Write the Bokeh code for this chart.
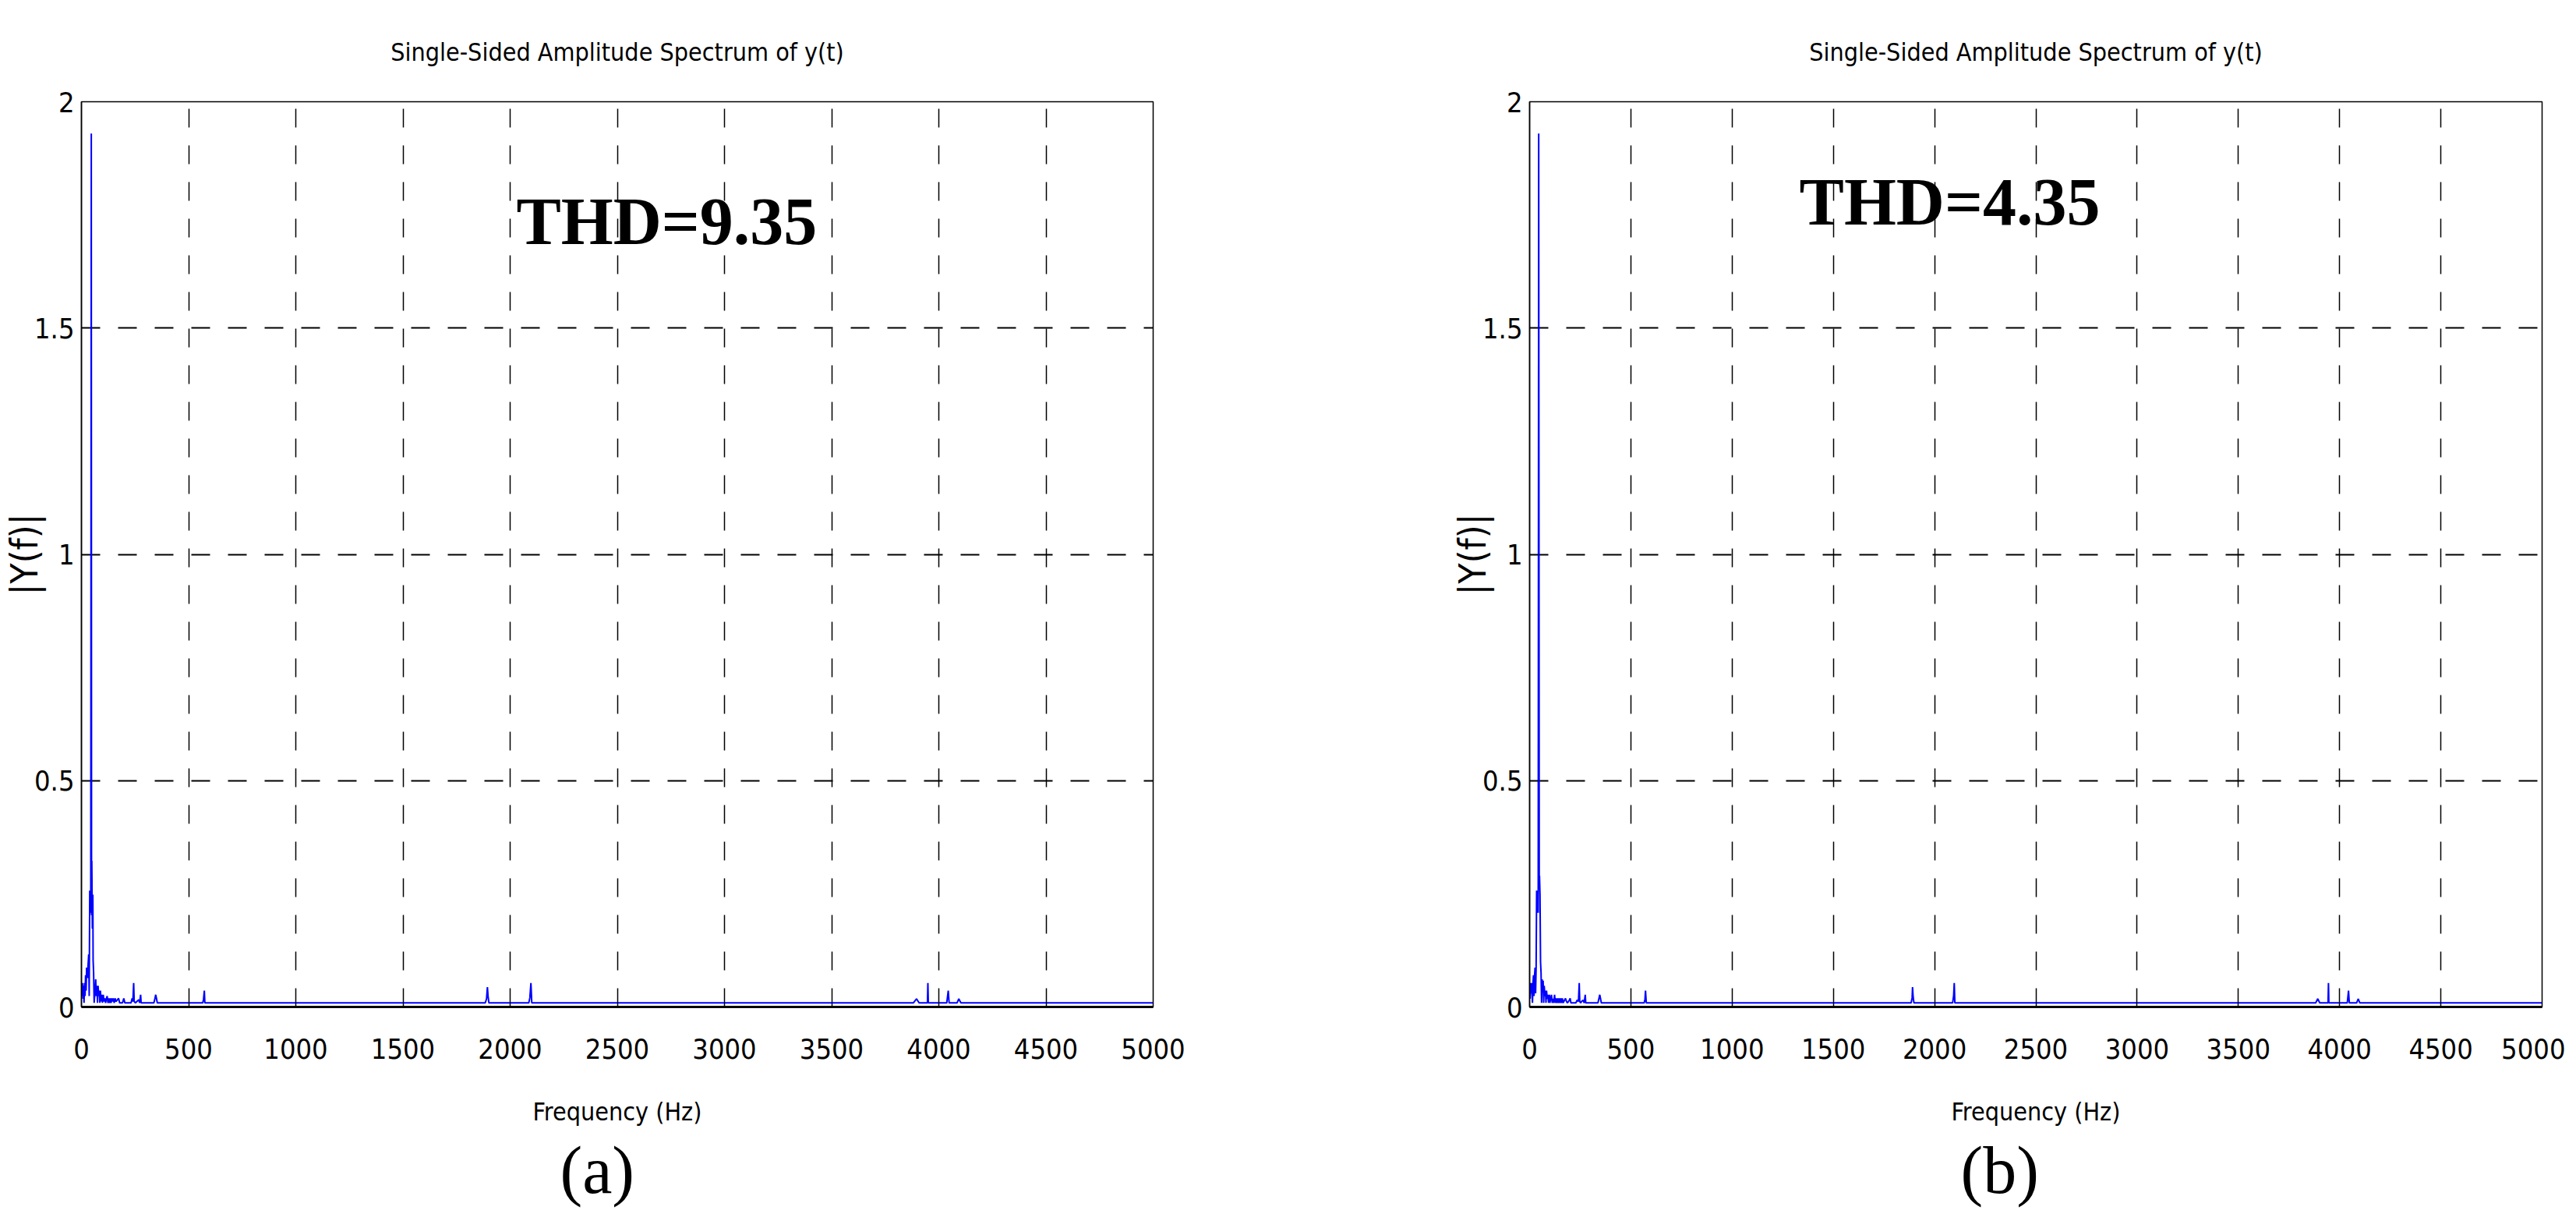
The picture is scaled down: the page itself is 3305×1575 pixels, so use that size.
from bokeh.plotting import figure
from bokeh.layouts import row
from bokeh.models import Range1d, FixedTicker, NumeralTickFormatter, Label, Title
from bokeh.embed import file_html
from bokeh.resources import INLINE

# ---------------- data ----------------
title_text = "Single-Sided Amplitude Spectrum of y(t)"
x_label = "Frequency (Hz)"
y_label = "|Y(f)|"
x_ticks = [0, 500, 1000, 1500, 2000, 2500, 3000, 3500, 4000, 4500, 5000]
y_ticks = [0, 0.5, 1, 1.5, 2]
panel_tags = ["(a)", "(b)"]
thd_texts = ["THD=9.35", "THD=4.35"]
thd_pos_x = [2029, 1332]
thd_pos_y = [1.736, 1.779]

# panel (a) spectrum
freq_a = [0, 2.4, 4.7, 7.1, 9.5, 12.0, 14.4, 16.8, 19.3, 21.7, 24.1, 27.8, 30.2, 33.8, 36.2,
          38.7, 41.1, 42.3, 43.5, 45.9, 47.1, 48.3, 49.6, 50.8, 53.2, 54.4, 56.8, 59.3,
          64.1, 66.5, 69.0, 72.6, 75.0, 77.4, 81.1, 83.5, 85.9, 88.4, 92.0, 94.4, 98.1,
          101.7, 105.4, 109.0, 112.6, 116.3, 119.9, 123.6, 127.2, 130.9, 134.5, 138.1,
          141.8, 145.4, 149.1, 152.7, 157.5, 161.2, 173.3, 178.2, 191.5, 197.6, 202.4,
          231.5, 236.4, 240.0, 243.6, 246.1, 252.0, 260.4, 267.6, 271.3, 276.1, 278.5,
          338.0, 343.0, 346.6, 350.3, 353.9, 566.0, 569.6, 573.3, 575.7,
          1884, 1890, 1894, 1897, 1901, 2087, 2092, 2097, 2101,
          3881, 3896, 3908, 3947, 3949, 3951, 4037, 4044, 4048, 4085, 4093, 4103, 5000]
amp_a = [0.047, 0.024, 0.053, 0.018, 0.047, 0.009, 0.053, 0.024, 0.070, 0.036, 0.087, 0.064,
         0.087, 0.116, 0.024, 0.257, 0.248, 0.208, 0.251, 1.93, 0.203, 0.323, 0.248, 0.173,
         0.248, 0.104, 0.075, 0.009, 0.041, 0.061, 0.024, 0.047, 0.009, 0.047, 0.024, 0.036,
         0.009, 0.036, 0.012, 0.027, 0.009, 0.027, 0.012, 0.019, 0.009, 0.018, 0.024, 0.009,
         0.019, 0.009, 0.019, 0.009, 0.019, 0.012, 0.019, 0.009, 0.019, 0.012, 0.019, 0.009,
         0.009, 0.019, 0.009, 0.009, 0.019, 0.012, 0.053, 0.012, 0.009, 0.013, 0.016, 0.009,
         0.027, 0.009, 0.009, 0.019, 0.027, 0.018, 0.009, 0.009, 0.017, 0.036, 0.009,
         0.009, 0.018, 0.044, 0.024, 0.009, 0.009, 0.020, 0.053, 0.009,
         0.009, 0.018, 0.009, 0.009, 0.053, 0.009, 0.009, 0.036, 0.009, 0.009, 0.018, 0.009,
         0.009]

# panel (b) spectrum
freq_b = [0, 2.6, 5.1, 7.7, 10.3, 14.1, 16.7, 19.2, 21.8, 24.4, 27.0, 29.5, 32.1, 34.6,
          37.2, 39.8, 42.4, 44.9, 47.5, 48.8, 51.3, 53.9, 56.5, 59.0, 61.6, 64.2, 66.7,
          69.3, 71.9, 75.7, 78.3, 80.8, 83.4, 87.2, 89.8, 93.6, 97.5, 100.1, 103.9, 107.8,
          111.6, 115.5, 119.3, 123.2, 127.0, 130.9, 134.7, 138.6, 142.4, 146.3, 150.1, 154.0,
          157.8, 161.7, 165.5, 177.1, 182.2, 187.3, 196.3, 200.1, 204.0, 228.4, 234.8,
          241.2, 245.0, 247.6, 251.5, 256.6, 264.3, 269.5, 274.6, 277.2, 337.4, 342.5,
          346.4, 350.3, 354.1, 565.8, 569.7, 572.3, 576.1,
          1884, 1889, 1891, 1894, 1898, 2089, 2094, 2097, 2100,
          3882, 3892, 3902, 3943, 3945, 3947, 4038, 4044, 4048, 4084, 4092, 4100, 5000]
amp_b = [0.047, 0.018, 0.053, 0.030, 0.053, 0.009, 0.053, 0.070, 0.024, 0.070, 0.087, 0.030,
         0.087, 0.257, 0.208, 0.257, 0.208, 1.93, 0.260, 0.290, 0.248, 0.100, 0.075, 0.009,
         0.061, 0.041, 0.058, 0.009, 0.047, 0.024, 0.036, 0.009, 0.036, 0.018, 0.027, 0.009,
         0.027, 0.009, 0.018, 0.027, 0.009, 0.018, 0.009, 0.027, 0.009, 0.019, 0.009, 0.019,
         0.009, 0.019, 0.009, 0.019, 0.009, 0.019, 0.009, 0.019, 0.012, 0.009, 0.015, 0.019,
         0.009, 0.009, 0.015, 0.012, 0.053, 0.012, 0.009, 0.012, 0.015, 0.009, 0.027, 0.009,
         0.009, 0.019, 0.027, 0.018, 0.009, 0.009, 0.017, 0.036, 0.009,
         0.009, 0.020, 0.044, 0.022, 0.009, 0.009, 0.025, 0.053, 0.009,
         0.009, 0.018, 0.009, 0.009, 0.053, 0.009, 0.009, 0.036, 0.009, 0.009, 0.018, 0.009,
         0.009]

# ---------------- styling ----------------
SANS = "'Liberation Sans Narrow', 'DejaVu Sans Condensed', 'Liberation Sans', sans-serif"
SERIF = "Liberation Serif"
FRAME_H = 1161


def make_panel(freq, amp, tag, thd_text, tx, ty, frame_w, b_left, b_right, tag_offset):
    p = figure(frame_width=frame_w, frame_height=FRAME_H,
               x_range=Range1d(0, 5000), y_range=Range1d(0, 2),
               output_backend="svg", toolbar_location=None,
               min_border_left=b_left, min_border_right=b_right,
               min_border_top=130, min_border_bottom=200,
               background_fill_color="white", border_fill_color="white")
    p.title.text = title_text
    p.title.align = "center"
    p.title.text_font = SANS
    p.title.text_font_size = "32px"
    p.title.text_font_style = "normal"
    p.title.text_color = "black"
    p.title.standoff = 90

    p.outline_line_color = "black"
    p.outline_line_width = 1.5

    p.xaxis.ticker = FixedTicker(ticks=x_ticks)
    p.yaxis.ticker = FixedTicker(ticks=y_ticks)
    p.yaxis.formatter = NumeralTickFormatter(format="0.[0]")
    for ax in (p.xaxis, p.yaxis):
        ax.major_label_text_font = SANS
        ax.major_label_text_font_size = "36px"
        ax.major_label_text_color = "black"
        ax.major_tick_in = 12
        ax.major_tick_out = 0
        ax.minor_tick_in = 0
        ax.minor_tick_out = 0
        ax.major_tick_line_color = "black"
        ax.axis_line_color = "black"
        ax.axis_label_text_font = SANS
        ax.axis_label_text_font_style = "normal"
        ax.axis_label_text_color = "black"
    p.xaxis.axis_line_width = 3
    p.yaxis.axis_line_width = 1.5
    p.xaxis.major_label_standoff = 40
    p.yaxis.major_label_standoff = 9
    p.xaxis.axis_label = x_label
    p.xaxis.axis_label_text_font_size = "32px"
    p.xaxis.axis_label_standoff = 46
    p.yaxis.axis_label = y_label
    p.yaxis.axis_label_text_font_size = "48px"
    p.yaxis.axis_label_standoff = -18

    p.xgrid.grid_line_color = "black"
    p.xgrid.grid_line_width = 1.5
    p.xgrid.grid_line_dash = "24 23"
    p.ygrid.grid_line_color = "black"
    p.ygrid.grid_line_width = 2
    p.ygrid.grid_line_dash = "24 23"

    p.line(freq, amp, line_color="#0000FF", line_width=2)

    p.add_layout(Label(x=tx, y=ty, text=thd_text, text_font=SERIF,
                       text_font_style="bold", text_font_size="86px",
                       text_color="black", text_align="left",
                       text_baseline="alphabetic"))

    p.add_layout(Title(text=tag, align="left", text_font=SERIF,
                       text_font_size="86px", text_font_style="normal",
                       text_color="black", standoff=6, offset=tag_offset), "below")
    return p


pa = make_panel(freq_a, amp_a, panel_tags[0], thd_texts[0], thd_pos_x[0], thd_pos_y[0],
                1375, 101, 200, 614)
pb = make_panel(freq_b, amp_b, panel_tags[1], thd_texts[1], thd_pos_x[1], thd_pos_y[1],
                1299, 283, 30, 553)

layout = row(pa, pb)
open("out.html", "w").write(file_html(layout, INLINE))
